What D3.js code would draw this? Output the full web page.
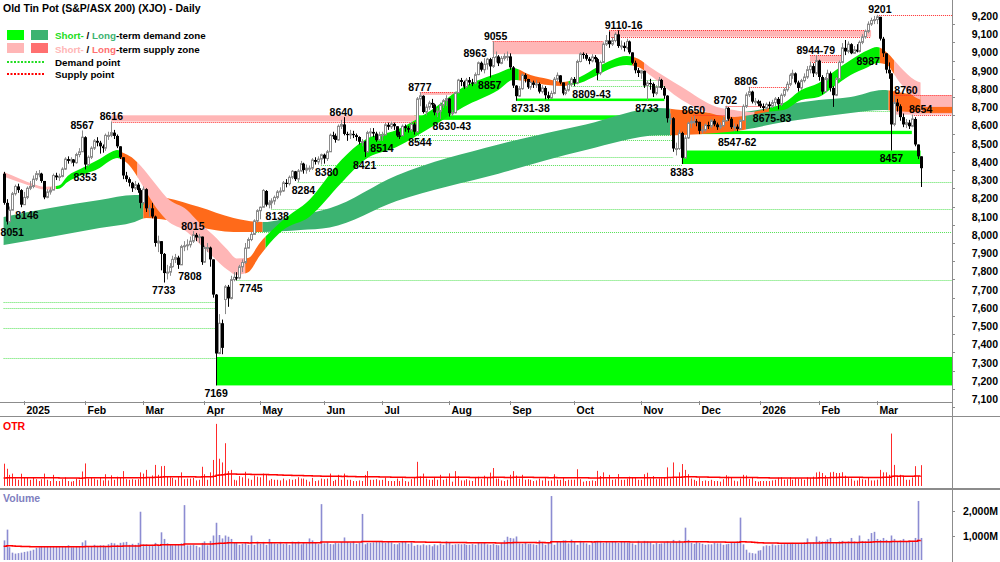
<!DOCTYPE html>
<html><head><meta charset="utf-8">
<script src="https://cdn.jsdelivr.net/npm/d3@7"></script>
<style>
body{margin:0;background:#fff}
svg{display:block}
text{font-family:"Liberation Sans",Arial,sans-serif;font-weight:bold;font-size:10.5px}
.lg text{font-size:9.8px}
</style></head>
<body><svg id="c" width="1000" height="562"></svg>
<script>
// ---------- DATA ----------
const firstDay = "2024-12-19", lastDay = "2026-03-23";
const holidays = ["2024-12-25","2024-12-26","2025-01-01","2025-01-27","2025-04-18","2025-04-21","2025-04-25","2025-06-09","2025-12-25","2025-12-26","2026-01-01","2026-01-26"];
const monthTickLabels = ["2025","Feb","Mar","Apr","May","Jun","Jul","Aug","Sep","Oct","Nov","Dec","2026","Feb","Mar"];
const priceTicks = [7100,7200,7300,7400,7500,7600,7700,7800,7900,8000,8100,8200,8300,8400,8500,8600,8700,8800,8900,9000,9100,9200];
const volumeTicks = [1000, 2000];

const close = [
8170,8067,8130,8220,8260,8240,8160,
8200,8250,8260,8300,8330,8330,8290,8200,8230,8240,8320,8310,8315,8355,8410,8400,8408,8390,8435,8450,8530,
8380,8420,8470,8510,8500,8480,8470,8540,8540,8555,8537,8480,8420,8320,8300,8280,8250,8270,8240,8170,
8245,8140,8140,8095,7950,7960,7890,7785,7790,7820,7860,7870,7830,7930,7935,7940,7960,7995,7980,7985,7845,
7925,7925,7860,7667,7344,7510,7375,7710,7646,7749,7762,7758,7819,7843,7922,7969,7997,8071,8127,
8146,8238,8160,8170,8180,8200,8230,8235,8280,8275,8310,8343,8300,8345,8385,8350,8360,8360,8405,8395,8410,8434,
8413,8450,8541,8538,8515,8590,8600,8548,8547,8548,8541,8531,8505,8506,8450,8555,8559,8550,8514,8542,
8543,8598,8587,8603,8590,8539,8538,8590,8580,8571,8600,8560,8740,8757,8668,8695,8718,8709,8666,8673,8707,8730,8742,
8662,8664,8774,8843,8833,8807,8843,8830,8827,8873,8938,8900,8930,8958,8918,8967,8972,8935,8962,8973,8973,
8913,8813,8755,8796,8871,8849,8804,8830,8817,8822,8780,8800,8760,8745,8770,8848,8869,8830,8770,8788,8820,8849,
8828,8945,8987,8981,8960,8948,8970,8958,8882,8940,9040,9060,9040,9060,9094,9030,9031,9019,9055,8995,8938,8897,8882,
8894,8813,8827,8822,8770,8804,8844,8800,8758,8634,8634,8468,8468,8553,8417,8526,8607,8617,8617,8614,
8565,8570,8597,8590,8620,8600,8585,8594,8620,8690,8631,8585,8588,8575,8621,8699,8762,8780,8725,8727,8714,
8700,8690,8710,8700,8720,8740,8710,8760,8790,8820,8870,8880,8830,8800,8840,8860,8900,8920,8880,8950,
8860,8780,8850,8880,8800,8760,8850,8940,9020,9000,9040,8990,9010,9000,9050,9080,9110,9150,9170,9175,
9190,9070,8990,8900,8880,8600,8720,8700,8640,8600,8610,8590,8630,8490,8425,8360];

const high = [
8340,8190,8150,8230,8270,8275,8245,
8230,8260,8290,8320,8345,8350,8335,8290,8245,8255,8330,8335,8330,8365,8420,8425,8420,8410,8445,8470,8567,
8535,8430,8480,8520,8530,8510,8490,8550,8560,8616,8570,8545,8480,8420,8340,8310,8285,8290,8280,8250,
8260,8250,8160,8170,8100,7990,7960,7895,7830,7840,7880,7890,7880,7940,7960,7970,7985,8015,8005,8000,7985,
7935,7950,7930,7860,7670,7560,7530,7720,7720,7770,7790,7790,7830,7860,7950,7980,8010,8080,8135,
8150,8245,8240,8185,8195,8210,8240,8255,8290,8300,8320,8350,8345,8355,8400,8390,8380,8375,8415,8420,8425,8440,
8440,8460,8550,8560,8550,8600,8625,8640,8560,8570,8565,8550,8535,8520,8510,8565,8580,8580,8560,8560,
8560,8608,8610,8615,8610,8590,8560,8600,8600,8590,8615,8610,8750,8777,8760,8710,8730,8740,8715,8690,8720,8740,8760,
8745,8680,8780,8850,8855,8840,8855,8860,8850,8885,8945,8945,8963,8965,8965,9055,9000,8980,8975,8990,9000,
8990,8920,8815,8810,8880,8880,8850,8840,8840,8845,8830,8815,8810,8780,8785,8860,8885,8870,8830,8800,8830,8860,
8860,8955,8995,8995,8990,8970,8985,8980,8965,8950,9050,9090,9110,9080,9105,9116,9060,9050,9070,9060,8995,8950,8910,
8900,8895,8840,8850,8830,8815,8860,8850,8810,8760,8660,8640,8500,8570,8560,8540,8615,8640,8650,8630,
8615,8590,8605,8615,8630,8630,8610,8610,8640,8702,8695,8640,8605,8600,8630,8710,8775,8806,8785,8745,8735,
8730,8715,8720,8725,8735,8750,8750,8770,8800,8835,8880,8900,8885,8840,8850,8880,8920,8944,8935,8979,
8955,8870,8860,8900,8890,8810,8860,8950,9046,9063,9055,9045,9030,9040,9060,9095,9120,9165,9185,9195,
9201,9190,9080,8990,8940,8880,8760,8740,8710,8660,8630,8625,8654,8640,8490,8425];

const low = [
8160,8051,8060,8130,8210,8225,8146,
8160,8190,8240,8250,8290,8310,8280,8190,8195,8215,8240,8295,8290,8310,8350,8385,8385,8370,8385,8420,8450,
8353,8370,8410,8460,8480,8440,8445,8455,8515,8530,8520,8470,8410,8300,8285,8260,8230,8240,8225,8140,
8160,8120,8095,8085,7930,7900,7800,7733,7750,7770,7815,7840,7808,7835,7905,7910,7925,7950,7960,7950,7830,
7840,7900,7820,7650,7169,7340,7340,7560,7600,7640,7740,7745,7750,7790,7835,7920,7960,7995,8060,
8080,8145,8150,8140,8138,8160,8190,8210,8230,8255,8265,8300,8290,8284,8340,8330,8330,8340,8350,8380,8380,8380,
8385,8400,8450,8520,8500,8510,8575,8540,8510,8520,8525,8510,8490,8480,8421,8445,8530,8530,8505,8514,
8510,8540,8570,8575,8570,8530,8520,8540,8560,8555,8560,8544,8555,8700,8660,8650,8680,8690,8650,8640,8630,8690,8700,
8643,8645,8660,8770,8810,8795,8800,8815,8810,8820,8870,8890,8880,8900,8857,8910,8940,8920,8930,8950,8950,
8900,8800,8731,8750,8790,8830,8795,8790,8800,8800,8770,8770,8738,8738,8740,8765,8835,8820,8760,8760,8780,8809,
8809,8820,8940,8960,8950,8930,8940,8940,8843,8870,8940,9030,9020,9030,9050,9020,9010,9000,9010,8985,8930,8880,8860,
8850,8800,8733,8790,8750,8760,8800,8790,8740,8610,8600,8450,8430,8460,8383,8410,8520,8580,8600,8590,
8547,8550,8560,8575,8580,8590,8570,8575,8585,8615,8620,8575,8562,8562,8570,8620,8690,8750,8715,8705,8700,
8690,8675,8680,8685,8690,8700,8683,8700,8750,8780,8810,8850,8820,8780,8790,8830,8850,8880,8860,8870,
8840,8765,8775,8840,8780,8696,8755,8845,8935,8980,8990,8985,8987,8995,8995,9040,9070,9100,9140,9150,
9150,9060,8970,8880,8850,8457,8590,8670,8620,8585,8580,8575,8585,8480,8410,8257];

// opens equal the previous close except for these gap opens
const openGaps = {0: 8330, 76: 7640, 90: 8235};

// volume in millions of shares
const volume = [
800,1240,520,300,260,280,300,
330,350,380,420,500,520,530,540,530,540,560,530,530,540,560,600,520,520,540,560,720,
800,560,560,620,580,600,600,540,640,700,680,620,700,720,740,620,660,620,700,1970,
640,640,600,620,700,580,1130,860,680,620,600,640,620,680,2240,600,600,620,580,520,700,
760,600,780,1000,1520,1020,880,1000,950,860,700,700,620,660,700,620,1000,620,750,
660,740,620,860,700,680,660,740,650,680,620,750,720,750,640,700,680,880,800,720,650,2280,
680,720,650,640,700,680,730,920,740,700,760,660,700,1880,640,700,700,720,760,760,
720,700,740,720,650,640,700,760,760,660,720,580,620,600,640,600,620,560,640,600,660,620,760,
700,620,640,650,640,660,620,620,650,620,700,680,720,640,620,650,620,600,700,800,950,
900,880,960,680,660,700,650,660,640,620,800,740,620,700,2610,620,740,750,800,800,680,830,
760,620,780,720,680,620,700,760,780,780,700,760,720,740,760,700,740,760,720,700,680,620,780,
700,780,760,720,640,700,660,680,720,760,700,820,740,800,700,1320,820,700,660,760,
700,660,620,640,640,700,680,680,620,640,660,700,720,760,1730,640,420,300,280,260,380,
400,560,600,580,640,600,620,640,650,660,680,700,660,680,700,720,880,700,720,960,
780,760,760,840,900,680,720,760,780,700,760,900,760,700,1000,780,760,860,1100,1150,
860,820,900,820,780,1000,860,760,800,860,760,800,780,900,2410,900];
const volumeAvgStart = 560;   // level of the volume average line at the left edge
const otrAvgStart = 62;       // level of the OTR average line at the left edge

// short-term ribbon edges (trading-day index, upper, lower)
const shortIdx = [0,6,10,14,19,22,27,33,37,39,41,44,47,53,56,63,67,72,77,80,84,88,96,105,116,124,135,147,158,170,175,181,187,192,198,204,209,214,218,222,233,245,251,256,263,268,274,280,285,291,297,300,303,308,313,315];
const shortUp  = [8339,8300,8275,8258,8265,8317,8361,8411,8449,8460,8445,8420,8375,8257,8200,8131,8065,7994,7912,7865,7868,7950,8076,8186,8405,8515,8570,8679,8805,8882,8910,8871,8849,8833,8860,8915,8953,8975,8960,8915,8805,8696,8679,8668,8690,8717,8789,8827,8888,8953,9008,9025,9000,8915,8844,8830];
const shortLo  = [8315,8280,8260,8243,8248,8285,8323,8361,8405,8416,8405,8360,8285,8131,8076,8010,7950,7873,7802,7775,7790,7880,8021,8093,8279,8405,8476,8586,8696,8789,8844,8833,8816,8811,8827,8871,8910,8926,8915,8871,8734,8652,8641,8650,8670,8679,8734,8750,8805,8871,8915,8937,8930,8827,8750,8735];
const shortStates = [[0,18,"pink"],[18,40,"green"],[40,46,"orange"],[46,83,"pink"],[83,90,"orange"],[90,177,"green"],[177,194,"orange"],[194,216,"green"],[216,220,"orange"],[220,258,"pink"],[258,263,"orange"],[263,301,"green"],[301,306,"orange"],[306,315,"pink"]];

// long-term ribbon edges
const longIdx = [0,16,33,45,49,56,67,79,89,102,112,135,170,200,225,233,245,254,268,280,291,302,310,315];
const longUp  = [8093,8142,8186,8213,8213,8197,8148,8087,8065,8104,8140,8320,8490,8600,8690,8679,8663,8668,8707,8734,8750,8789,8770,8760];
const longLo  = [7939,7983,8032,8065,8087,8076,8038,8010,8010,8021,8035,8180,8330,8460,8540,8542,8553,8570,8613,8641,8663,8679,8670,8668];
const longStates = [[0,48,"dgreen"],[48,89,"orange"],[89,229,"dgreen"],[229,255,"orange"],[255,304,"dgreen"],[304,315,"orange"]];
const longProjection = [8663, 8696];   // long-term zone carried to the right of the last bar

// zones: [low price, high price, from index, to index (null = right edge)]
const demandZones = [[7169,7325,73,null],[8625,8650,141,228],[8728,8742,176,227],[8383,8457,233,315],[8547,8565,239,312]];
const supplyZones = [[8616,8650,37,142],[8762,8777,143,155],[8985,9055,168,206],[9081,9116,208,298],[8944,8979,277,288],[8654,8760,306,null]];
// points: [price, from index, to index (null = right edge)]
const demandPoints = [[7627,0,73],[7594,0,73],[7484,0,73],[7320,0,73],[7745,80,null],[8012,86,null],[8138,92,null],[8284,101,null],[8380,109,233],[8421,124,230],[8514,129,230],[8544,141,230],[8809,195,228],[8843,204,228],[8857,167,175],[8675,261,305]];
const supplyPoints = [[8616,37,142],[8777,143,155],[9055,168,206],[9116,208,298],[9081,208,298],[9201,300,null],[8702,248,262],[8806,256,270],[8650,237,248],[8979,277,288],[8944,277,288],[8760,306,null],[8654,312,null]];

// price labels: [text, index, price, "hi"|"lo"]
const priceLabels = [
["8146",8,8146,"lo"],["8567",27,8567,"hi"],["8353",28,8353,"lo"],["8616",37,8616,"hi"],
["7733",55,7733,"lo"],["7808",64,7808,"lo"],["8015",65,8015,"hi"],["7169",73,7169,"lo"],["7745",85,7745,"lo"],
["8138",94,8138,"lo"],["8284",103,8284,"lo"],["8380",111,8380,"lo"],["8640",116,8640,"hi"],["8421",124,8421,"lo"],
["8514",130,8514,"lo"],["8544",143,8544,"lo"],["8777",143,8777,"hi"],["8630-43",154,8630,"lo"],["8963",162,8963,"hi"],
["8857",167,8857,"lo"],["9055",169,9055,"hi"],["8731-38",181,8731,"lo"],["8809-43",202,8809,"lo"],["9110-16",213,9116,"hi"],
["8733",221,8733,"lo"],["8383",233,8383,"lo"],["8650",237,8650,"hi"],["8702",248,8702,"hi"],["8547-62",252,8547,"lo"],
["8806",255,8806,"hi"],["8675-83",264,8675,"lo"],["8944-79",279,8979,"hi"],["8987",297,8987,"lo"],["9201",301,9201,"hi"],
["8760",310,8760,"hi"],["8654",315,8654,"hi"],["8457",305,8457,"lo"]];
const edgeLabel = ["8051", 0, 8051, "lo"];   // the low at the left edge

// ---------- CHART ----------
const W = 1000, H = 562, AX = 952;
const C = {green:"#00ee00", zone:"#00ff00", dgreen:"#3cb371", pink:"#ffb6b6", orange:"#ff6a1a", salmon:"#ff7070",
  dotG:"#52e052", dotR:"#ff2a2a", grid:"#8c8c8c", vol:"#8c8cd2", otr:"#ff2a2a"};

const parse = d3.utcParse("%Y-%m-%d"), fmt = d3.utcFormat("%Y-%m-%d");
const hol = new Set(holidays);
const days = d3.utcDays(parse(firstDay), d3.utcDay.offset(parse(lastDay), 1))
  .filter(d => d.getUTCDay() % 6 !== 0 && !hol.has(fmt(d)));
const N = close.length;

const x = d3.scaleLinear().domain([0, N - 1]).range([3.6, 3.6 + 2.911 * (N - 1)]);
const y = d3.scaleLinear().domain([7100, 9200]).range([398, 15]);
const yOtr = d3.scaleLinear().domain([0, 500]).range([486, 424]);
const yVol = d3.scaleLinear().domain([0, 2000]).range([560, 511]);
const xEnd = i => i == null ? AX : x(i);
const px = v => Math.round(v) + 0.5;

const svg = d3.select("#c");
svg.append("rect").attr("width", W).attr("height", H).attr("fill", "#fff");
const defs = svg.append("defs");
defs.append("clipPath").attr("id", "pc").append("rect").attr("x", 0).attr("y", 0).attr("width", AX).attr("height", 401);
const gP = svg.append("g").attr("clip-path", "url(#pc)");

// zones
gP.append("g").selectAll("rect").data(demandZones).join("rect")
  .attr("x", d => x(d[2])).attr("width", d => xEnd(d[3]) - x(d[2]))
  .attr("y", d => y(d[1])).attr("height", d => y(d[0]) - y(d[1])).attr("fill", C.zone);
gP.append("g").selectAll("rect").data(supplyZones).join("rect")
  .attr("x", d => x(d[2])).attr("width", d => xEnd(d[3]) - x(d[2]))
  .attr("y", d => y(d[1])).attr("height", d => y(d[0]) - y(d[1])).attr("fill", C.pink);

// dotted demand/supply points
function pointLines(data, col) {
  gP.append("g").selectAll("line").data(data).join("line")
    .attr("x1", d => x(d[1])).attr("x2", d => xEnd(d[2]))
    .attr("y1", d => px(y(d[0]))).attr("y2", d => px(y(d[0])))
    .attr("stroke", col).attr("stroke-width", 1).attr("stroke-dasharray", "1,1");
}
pointLines(demandPoints, C.dotG);

// ribbons
function ribbon(idx, up, lo, states, id) {
  const pts = idx.map((i, k) => ({i, up: up[k], lo: lo[k]}));
  const area = d3.area().x(d => x(d.i)).y0(d => y(d.lo)).y1(d => y(d.up)).curve(d3.curveMonotoneX);
  const dPath = area(pts);
  states.forEach((s, k) => {
    const cid = id + k;
    const x0 = k === 0 ? -5 : x(s[0]);
    const x1 = k === states.length - 1 ? x(s[1]) + 2 : x(s[1]);
    defs.append("clipPath").attr("id", cid).append("rect")
      .attr("x", x0).attr("y", 0).attr("width", x1 - x0).attr("height", 402);
    gP.append("path").attr("d", dPath).attr("fill", C[s[2]]).attr("clip-path", `url(#${cid})`);
  });
}
ribbon(longIdx, longUp, longLo, longStates, "lt");
gP.append("rect").attr("x", x(N - 1) + 2).attr("width", AX - x(N - 1) - 2)
  .attr("y", y(longProjection[1])).attr("height", y(longProjection[0]) - y(longProjection[1])).attr("fill", C.orange);
ribbon(shortIdx, shortUp, shortLo, shortStates, "st");

pointLines(supplyPoints, C.dotR);

// candles
const open = close.map((c, i) => openGaps[i] != null ? openGaps[i] : close[i - 1]);
const cg = gP.append("g");
close.forEach((c, i) => {
  const o = open[i], up = c >= o, xc = Math.round(x(i));
  cg.append("line").attr("x1", xc + 0.5).attr("x2", xc + 0.5).attr("y1", y(high[i])).attr("y2", y(low[i]))
    .attr("stroke", up ? "#8a8a8a" : "#000").attr("stroke-width", 1);
  const top = y(Math.max(o, c)), bot = y(Math.min(o, c));
  if (up) {
    cg.append("rect").attr("x", xc - 0.5).attr("y", top).attr("width", 2).attr("height", Math.max(bot - top, 1))
      .attr("fill", "#fff").attr("stroke", "#8a8a8a").attr("stroke-width", 1);
  } else {
    cg.append("rect").attr("x", xc - 1).attr("y", top).attr("width", 3).attr("height", Math.max(bot - top, 1.2))
      .attr("fill", "#000");
  }
});

// labels
const labelY = d => d[3] === "hi" ? y(d[2]) - 1.5 : y(d[2]) + 11.5;
gP.append("g").selectAll("text").data(priceLabels).join("text")
  .attr("x", d => x(d[1])).attr("y", labelY)
  .attr("text-anchor", "middle").attr("fill", "#000").text(d => d[0]);
gP.append("text").attr("x", x(edgeLabel[1]) - 3).attr("y", labelY(edgeLabel)).attr("fill", "#000").text(edgeLabel[0]);

// ---------- frame & axes ----------
svg.append("line").attr("x1", AX + 0.5).attr("x2", AX + 0.5).attr("y1", 0).attr("y2", H).attr("stroke", C.grid);
svg.append("line").attr("x1", 0).attr("x2", AX).attr("y1", 402.5).attr("y2", 402.5).attr("stroke", C.grid);
svg.append("line").attr("x1", 0).attr("x2", W).attr("y1", 416.5).attr("y2", 416.5).attr("stroke", C.grid);
svg.append("line").attr("x1", 0).attr("x2", W).attr("y1", 489).attr("y2", 489).attr("stroke", C.grid).attr("stroke-width", 2);

// price axis
const pa = svg.append("g");
priceTicks.forEach(p => {
  pa.append("text").attr("x", 998).attr("y", y(p) + 5).attr("text-anchor", "end").text(d3.format(",")(p));
  pa.append("line").attr("x1", AX).attr("x2", AX + 3).attr("y1", px(y(p - 50))).attr("y2", px(y(p - 50))).attr("stroke", C.grid);
});

// month axis
const monthStarts = [];
days.forEach((d, i) => { if (i > 0 && d.getUTCMonth() !== days[i - 1].getUTCMonth()) monthStarts.push(i); });
monthStarts.forEach((i, k) => {
  const xx = Math.round(x(i)) + 0.5;
  svg.append("line").attr("x1", xx).attr("x2", xx).attr("y1", 401).attr("y2", 405).attr("stroke", C.grid);
  svg.append("text").attr("x", xx + 2).attr("y", 414).text(monthTickLabels[k]);
});

// OTR panel
const otr = close.map((c, i) => {
  const pc = i ? close[i - 1] : open[0];
  return Math.max(high[i], pc) - Math.min(low[i], pc);
});
svg.append("g").selectAll("line").data(otr).join("line")
  .attr("x1", (d, i) => Math.round(x(i)) + 0.5).attr("x2", (d, i) => Math.round(x(i)) + 0.5)
  .attr("y1", yOtr(0)).attr("y2", d => yOtr(d)).attr("stroke", C.otr).attr("stroke-width", 1);
function emaSeries(vals, n, seed) { let e = seed; const k = 2 / (n + 1); return vals.map(v => (e = e + (v - e) * k)); }
const otrAvg = emaSeries(otr, 100, otrAvgStart);
svg.append("path").attr("d", d3.line().x((d, i) => x(i)).y(d => yOtr(d)).curve(d3.curveStepAfter)(otrAvg))
  .attr("fill", "none").attr("stroke", "#ff0000").attr("stroke-width", 1.5);
svg.append("text").attr("x", 3).attr("y", 430).attr("fill", "#ff0000").text("OTR");

// Volume panel
svg.append("g").selectAll("rect").data(volume).join("rect")
  .attr("x", (d, i) => Math.round(x(i)) - 0.3).attr("width", 1.6)
  .attr("y", d => yVol(d)).attr("height", d => yVol(0) - yVol(d)).attr("fill", C.vol);
const volAvg = emaSeries(volume, 100, volumeAvgStart);
svg.append("path").attr("d", d3.line().x((d, i) => x(i)).y(d => yVol(d)).curve(d3.curveStepAfter)(volAvg))
  .attr("fill", "none").attr("stroke", "#ff0000").attr("stroke-width", 1.5);
svg.append("text").attr("x", 3).attr("y", 502).attr("fill", "#8080c0").text("Volume");
volumeTicks.forEach(v => {
  svg.append("text").attr("x", 998).attr("y", yVol(v) + 4).attr("text-anchor", "end").text(d3.format(",")(v) + "M");
  svg.append("line").attr("x1", AX).attr("x2", AX + 3).attr("y1", px(yVol(v))).attr("y2", px(yVol(v))).attr("stroke", C.grid);
});

// title & legend
svg.append("text").attr("x", 3).attr("y", 11.5).text("Old Tin Pot (S&P/ASX 200) (XJO) - Daily");
const lg = svg.append("g").attr("class", "lg");
lg.append("rect").attr("x", 7).attr("y", 30).attr("width", 17).attr("height", 10).attr("fill", C.zone);
lg.append("rect").attr("x", 31).attr("y", 30).attr("width", 17).attr("height", 10).attr("fill", C.dgreen);
lg.append("rect").attr("x", 7).attr("y", 43).attr("width", 17).attr("height", 10).attr("fill", C.pink);
lg.append("rect").attr("x", 31).attr("y", 43).attr("width", 17).attr("height", 10).attr("fill", C.salmon);
function legendText(yy, parts) {
  const t = lg.append("text").attr("x", 55).attr("y", yy);
  parts.forEach(p => t.append("tspan").attr("fill", p[1]).text(p[0]));
}
legendText(39, [["Short-", "#22dd22"], [" / ", "#000"], ["Long", C.dgreen], ["-term demand zone", "#000"]]);
legendText(52.5, [["Short-", C.pink], [" / ", "#000"], ["Long", C.salmon], ["-term supply zone", "#000"]]);
lg.append("line").attr("x1", 7).attr("x2", 44).attr("y1", 62).attr("y2", 62).attr("stroke", "#22dd22").attr("stroke-width", 2).attr("stroke-dasharray", "2,1.5");
lg.append("line").attr("x1", 7).attr("x2", 44).attr("y1", 74).attr("y2", 74).attr("stroke", "#ff0000").attr("stroke-width", 2).attr("stroke-dasharray", "2,1.5");
legendText(66, [["Demand point", "#000"]]);
legendText(78, [["Supply point", "#000"]]);
</script></body></html>
